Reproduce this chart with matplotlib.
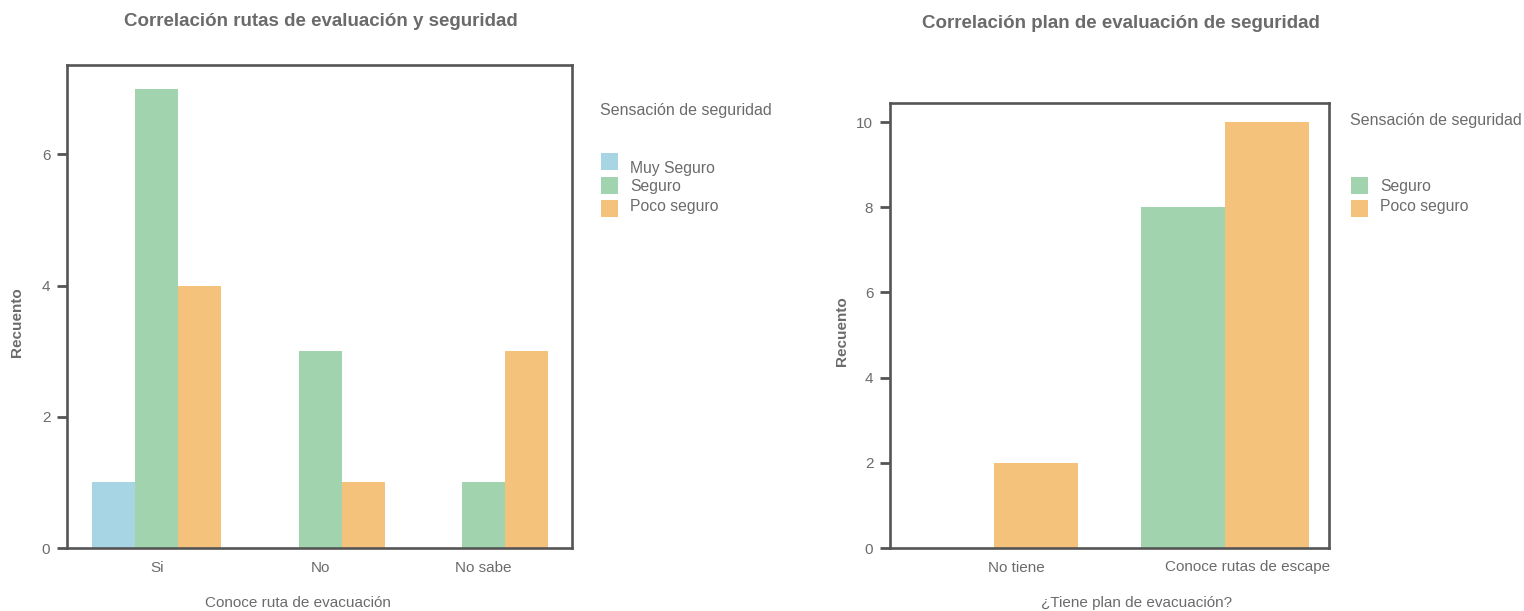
import matplotlib.pyplot as plt
from matplotlib.patches import Rectangle
import numpy as np

plt.rcParams['font.family'] = ['Liberation Sans', 'DejaVu Sans']

# Datos gráfico 1
rutas_cats = ['Si', 'No', 'No sabe']
rutas_series = ['Muy Seguro', 'Seguro', 'Poco seguro']
rutas_vals = {
    'Muy Seguro': [1, 0, 0],
    'Seguro': [7, 3, 1],
    'Poco seguro': [4, 1, 3],
}

# Datos gráfico 2
plan_cats = ['No tiene', 'Conoce rutas de escape']
plan_series = ['Seguro', 'Poco seguro']
plan_vals = {
    'Seguro': [0, 8],
    'Poco seguro': [2, 10],
}

colores = {'Muy Seguro': '#a7d5e4', 'Seguro': '#a1d4ae', 'Poco seguro': '#f4c27a'}
gris_texto = '#6b6b6b'
gris_eje = '#555555'

W, H = 1524, 611
fig = plt.figure(figsize=(W / 100, H / 100), dpi=100)


def px_axes(x0, y0, x1, y1):
    # coordenadas en pixeles (origen arriba a la izquierda)
    return fig.add_axes([x0 / W, (H - y1) / H, (x1 - x0) / W, (y1 - y0) / H])


def ftext(x, y, s, **kw):
    kw.setdefault('color', gris_texto)
    kw.setdefault('va', 'center')
    return fig.text(x / W, 1 - y / H, s, **kw)


def estilo(ax):
    for s in ax.spines.values():
        s.set_color(gris_eje)
        s.set_linewidth(1.9)
    ax.tick_params(axis='y', colors=gris_eje, labelcolor=gris_texto, length=7,
                   width=2, pad=5, labelsize=11)
    ax.tick_params(axis='x', length=0, pad=9, labelcolor=gris_texto, labelsize=11)


def leyenda(x, y_titulo, y_cajas, y_textos, series):
    ftext(x, y_titulo, 'Sensación de seguridad', fontsize=11.5, ha='left')
    for name, ys, yt in zip(series, y_cajas, y_textos):
        fig.add_artist(Rectangle(((x + 1) / W, 1 - (ys + 17) / H), 17 / W, 17 / H,
                                 transform=fig.transFigure, color=colores[name], lw=0))
        ftext(x + 30, yt, name, fontsize=11.3, ha='left')


# Gráfico 1
ax1 = px_axes(67, 65, 572, 548)
w1 = 0.263
x1 = np.arange(len(rutas_cats))
for k, name in enumerate(rutas_series):
    ax1.bar(x1 + (k - 1) * w1, rutas_vals[name], width=w1, color=colores[name], lw=0)
ax1.set_xlim(-0.55, 2.54)
ax1.set_ylim(0, 7.36)
ax1.set_yticks([0, 2, 4, 6])
ax1.set_xticks(x1)
ax1.set_xticklabels(rutas_cats)
estilo(ax1)
ftext(17, 322, 'Recuento', fontsize=11, fontweight='bold', rotation=90, ha='center')
ftext(298, 603, 'Conoce ruta de evacuación', fontsize=11, ha='center')
ftext(321, 22, 'Correlación rutas de evaluación y seguridad',
      fontsize=13.5, fontweight='bold', ha='center')
leyenda(600, 110, (153, 177, 200), (168, 187, 206), rutas_series)

# Gráfico 2
ax2 = px_axes(890, 103, 1329, 548)
w2 = 0.364
x2 = np.arange(len(plan_cats))
for k, name in enumerate(plan_series):
    ax2.bar(x2 + k * w2, plan_vals[name], width=w2, color=colores[name], lw=0)
ax2.set_xlim(-0.268, 1.632)
ax2.set_ylim(0, 10.45)
ax2.set_yticks([0, 2, 4, 6, 8, 10])
ax2.set_xticks(x2 + 0.28)
ax2.set_xticklabels(plan_cats)
estilo(ax2)
ftext(842, 331, 'Recuento', fontsize=11, fontweight='bold', rotation=90, ha='center')
ftext(1137, 603, '¿Tiene plan de evacuación?', fontsize=11, ha='center')
ftext(1121, 23, 'Correlación plan de evaluación de seguridad',
      fontsize=13.5, fontweight='bold', ha='center')
leyenda(1350, 120, (177, 200), (187, 206), plan_series)

fig.savefig('out.png', dpi=100)
